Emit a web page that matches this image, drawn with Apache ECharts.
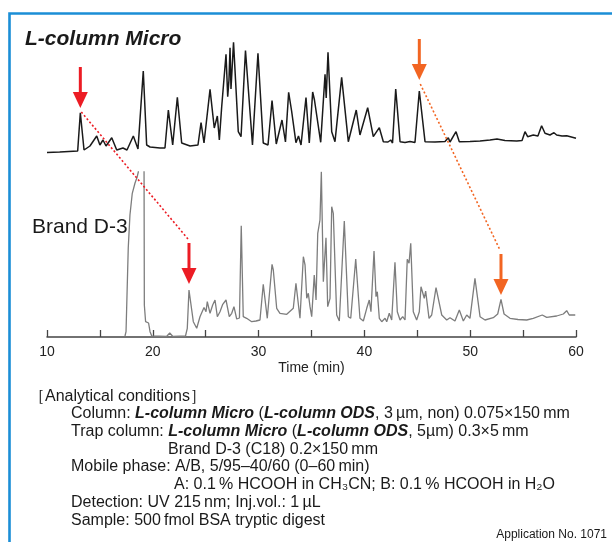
<!DOCTYPE html>
<html><head><meta charset="utf-8">
<script src="https://cdn.jsdelivr.net/npm/echarts@6/dist/echarts.min.js"></script>
<style>html,body{margin:0;padding:0;background:#fff}#c{width:612px;height:542px}</style>
</head><body><div id="c"></div>
<script>
// L-column Micro trace: [time (min), signal]
const microTrace = [[10.0,2.5],[11.2,3],[12.9,4],[13.15,42.3],[13.5,5],[14.06,9],[14.7,19],[15.0,10],[15.29,15],[15.58,9],[16.12,17.3],[16.59,5],[17.18,7],[17.56,5],[18.16,19],[18.6,6],[19.1,84],[19.42,10],[19.74,8],[20.68,7],[21.15,7],[21.47,45],[21.88,10],[22.32,57.7],[22.73,12],[23.52,9],[24.27,10],[24.56,32.3],[24.84,12],[25.41,65.7],[25.81,27],[26.1,39],[26.29,15],[26.51,48],[26.92,100.7],[27.08,58.3],[27.2,75],[27.3,107.3],[27.39,66],[27.63,112.7],[28.08,23.3],[28.34,18.3],[28.76,104.5],[29.42,10],[29.94,101.7],[30.44,12],[30.89,10],[31.27,54.5],[31.67,11],[32.21,35],[32.54,13],[32.84,62.7],[33.12,44],[33.53,12.3],[33.77,19],[34.01,10],[34.48,57.5],[34.79,12],[35.11,63],[35.28,55],[35.87,12.7],[36.28,80.7],[36.39,57],[36.56,102.7],[36.91,23.3],[37.22,13.3],[37.85,77.7],[38.48,13.3],[39.23,45],[39.58,20],[40.31,47.3],[40.84,18.3],[41.41,27.3],[41.79,13.3],[42.23,13],[42.49,15],[42.66,12],[42.96,66],[43.37,13.3],[43.84,12.5],[44.31,13.5],[44.78,12.5],[45.19,64],[45.73,13.3],[46.67,13],[47.62,13.5],[47.93,17.3],[48.09,13],[48.66,23.3],[48.97,13.3],[49.98,13.5],[50.93,14],[51.87,15],[52.53,16],[53.29,14.5],[54.4,14],[54.9,14.5],[55.18,23.3],[55.43,18.3],[55.96,20],[56.4,19],[56.75,29.3],[57.07,21.7],[57.54,20],[57.92,22.3],[58.17,20],[58.68,19],[59.12,19.3],[60,16.7]];

// Brand D-3 trace: [time (min), signal]
const brandTrace = [[17.37,-6],[17.47,-1.7],[17.68,82],[17.84,115],[18.06,136.7],[18.32,147],[18.53,153.3],[18.63,158],[18.75,175],[19.0,185],[19.17,175],[19.2,25],[19.32,8.3],[19.6,7],[19.74,-1.7],[19.9,-6],[21.3,-6.5],[21.6,-3],[21.9,-6.5],[23.09,-6],[23.26,1.7],[23.42,40],[23.83,8.3],[24.15,1.7],[24.46,13.3],[24.84,22.5],[25.03,18.3],[25.15,28.3],[25.41,16.7],[25.66,25],[25.88,30],[26.1,13.3],[26.35,18.3],[26.61,25.7],[26.92,30],[27.23,13.3],[27.46,16.7],[27.67,23.3],[27.93,11],[28.19,12],[28.36,104.3],[28.55,13.3],[28.87,11.7],[29.35,8.3],[29.75,9],[30.13,10],[30.44,45.7],[30.82,11.7],[31.27,65.7],[31.39,60],[31.71,21.7],[32.02,16.7],[32.66,15.7],[33.28,21.7],[33.53,46.7],[33.91,11.7],[34.23,73.3],[34.39,65],[34.55,31.7],[34.7,36.7],[34.86,23.3],[35.02,13.3],[35.26,55],[35.43,30],[35.59,96.7],[35.8,110],[35.93,158.3],[36.12,48.3],[36.21,65],[36.37,92.3],[36.53,23.3],[36.75,31.7],[36.91,123.3],[37.06,116.7],[37.38,15],[37.63,9],[38.1,109],[38.48,13.3],[38.71,11.7],[39.18,71],[39.58,11.7],[39.9,9],[40.22,21.7],[40.46,30],[40.62,18.3],[40.91,79],[41.1,33.3],[41.22,38.3],[41.41,11.7],[41.64,8.3],[41.95,11.7],[42.11,8.3],[42.35,16.7],[42.58,10],[42.89,67.7],[43.11,18.3],[43.37,10],[43.62,13.3],[43.84,10],[44.05,70.7],[44.22,66.7],[44.38,86.7],[44.62,18.3],[44.94,10],[45.19,18.3],[45.35,43.3],[45.51,42.3],[45.66,31.7],[45.79,39],[46.11,11.7],[46.36,15],[46.77,42.3],[47.31,15],[47.78,10],[48.09,12.3],[48.56,9],[48.97,20],[49.35,9],[49.67,15],[49.98,11.7],[50.45,51.7],[50.61,50],[50.93,13.3],[51.4,10],[52.18,12.3],[52.6,16],[52.91,30.7],[53.2,16],[53.76,11.7],[54.52,10.5],[55.34,10],[55.96,11.7],[56.81,15],[57.23,12.7],[58.17,14],[58.8,16],[59.12,19.3],[59.36,15],[59.93,15]];

const timeRange = [10, 60];
const timeTickStep = 5;
const timeLabelStep = 10;

// arrow tips [time, signal]: first = red pair, second = orange pair
const microArrows = [[13.15, 47], [45.19, 75]];
const brandArrows = [[23.42, 46], [52.91, 35]];

const FONT = "'Liberation Sans', Arial, Helvetica, sans-serif";
const chart = echarts.init(document.getElementById('c'), null, {renderer: 'canvas'});
chart.setOption({
  animation: false,
  backgroundColor: '#fff',
  grid: [
    {left: 47, width: 529, top: 30, height: 125},
    {left: 47, width: 529, top: 172, height: 165}
  ],
  xAxis: [
    {type: 'value', gridIndex: 0, min: timeRange[0], max: timeRange[1], show: false},
    {type: 'value', gridIndex: 1, min: timeRange[0], max: timeRange[1], interval: timeTickStep,
     splitLine: {show: false},
     axisLine: {onZero: false, lineStyle: {color: '#444', width: 1.5}},
     axisTick: {inside: true, length: 7, lineStyle: {color: '#444', width: 1.3}},
     axisLabel: {fontSize: 14, color: '#222', fontFamily: FONT, margin: 8,
       formatter: v => (v % timeLabelStep === 0 ? String(v) : '')},
     name: 'Time (min)', nameLocation: 'middle', nameGap: 24,
     nameTextStyle: {fontSize: 14, color: '#222', fontFamily: FONT}}
  ],
  yAxis: [
    {type: 'value', gridIndex: 0, min: 0, max: 125, show: false},
    {type: 'value', gridIndex: 1, min: -7, max: 158, show: false}
  ],
  series: [
    {type: 'line', xAxisIndex: 0, yAxisIndex: 0, data: microTrace, showSymbol: false,
     lineStyle: {color: '#1a1a1a', width: 1.5}, silent: true},
    {type: 'line', xAxisIndex: 1, yAxisIndex: 1, data: brandTrace, showSymbol: false,
     lineStyle: {color: '#7d7d7d', width: 1.3}, silent: true}
  ]
});

const colors = ['#ec1c24', '#f26522'];
const g = [];
// outer blue frame
g.push({type: 'rect', shape: {x: 9.5, y: 13.5, width: 800, height: 800},
  style: {fill: 'none', stroke: '#1b8ed6', lineWidth: 2.6}, z: 100});

function arrow(tip, color) {
  const [tx, ty] = tip;
  g.push({type: 'line', shape: {x1: tx, y1: ty - 41, x2: tx, y2: ty - 14},
    style: {stroke: color, lineWidth: 3}, z: 50});
  g.push({type: 'polygon', shape: {points: [[tx - 7.5, ty - 16], [tx + 7.5, ty - 16], [tx, ty]]},
    style: {fill: color}, z: 50});
}
for (let i = 0; i < 2; i++) {
  const top = chart.convertToPixel({gridIndex: 0}, microArrows[i]);
  const bot = chart.convertToPixel({gridIndex: 1}, brandArrows[i]);
  arrow(top, colors[i]);
  arrow(bot, colors[i]);
  g.push({type: 'line', shape: {x1: top[0] + 1, y1: top[1] + 4, x2: bot[0] - 1, y2: bot[1] - 45},
    style: {stroke: colors[i], lineWidth: 1.6, lineDash: [2, 2.2]}, z: 40});
}

function txt(x, y, text, opts) {
  g.push({type: 'text', x: x, y: y, z: 60, style: Object.assign({text: text, fill: '#1a1a1a',
    font: '16px ' + FONT, verticalAlign: 'middle'}, opts || {})});
}
txt(25, 39, 'L-column Micro', {font: 'italic bold 21px ' + FONT});
txt(32, 227, 'Brand D-3', {font: '21px ' + FONT});

const rich = {b: {fontStyle: 'italic', fontWeight: 'bold', fontSize: 16, fontFamily: FONT, fill: '#1a1a1a'}};
txt(29, 397, '［Analytical conditions］');
txt(71, 414, 'Column: {b|L-column Micro} ({b|L-column ODS}, 3\u2009µm, non) 0.075×150\u2009mm', {rich: rich});
txt(71, 432, 'Trap column: {b|L-column Micro} ({b|L-column ODS}, 5µm) 0.3×5\u2009mm', {rich: rich});
txt(168, 450, 'Brand D-3 (C18) 0.2×150\u2009mm');
txt(71, 467, 'Mobile phase: A/B, 5/95–40/60 (0–60\u2009min)');
txt(174, 485, 'A: 0.1\u2009% HCOOH in CH₃CN; B: 0.1\u2009% HCOOH in H₂O');
txt(71, 503, 'Detection: UV 215\u2009nm; Inj.vol.: 1\u2009µL');
txt(71, 521, 'Sample: 500\u2009fmol BSA tryptic digest');
txt(607, 535, 'Application No. 1071', {font: '12px ' + FONT, align: 'right'});

chart.setOption({graphic: g});
</script></body></html>
